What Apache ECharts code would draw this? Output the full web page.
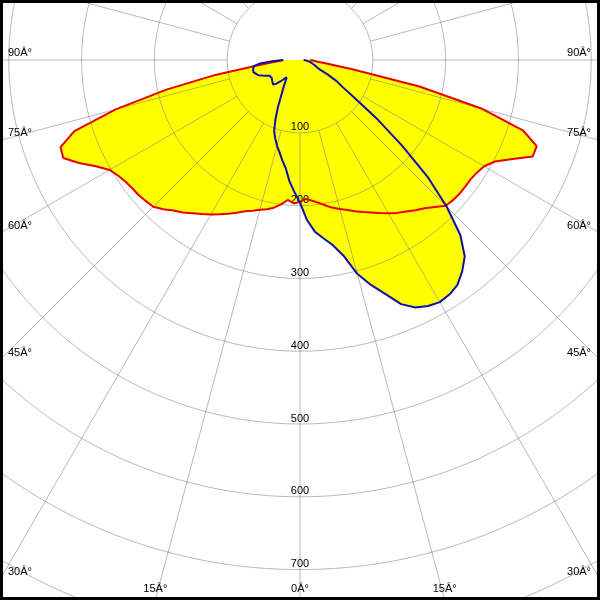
<!DOCTYPE html>
<html><head><meta charset="utf-8">
<script src="https://cdn.jsdelivr.net/npm/echarts@6/dist/echarts.min.js"></script>
<style>html,body{margin:0;padding:0;background:#fff}#c{width:600px;height:600px}</style>
</head><body><div id="c"></div>
<script>
// gamma angles (deg from nadir, negative = left half)
const gammas = [-90,-87.5,-85,-82.5,-80,-77.5,-75,-72.5,-70,-67.5,-65,-62.5,-60,-57.5,-55,-52.5,-50,-47.5,-45,-42.5,-40,-37.5,-35,-32.5,-30,-27.5,-25,-22.5,-20,-17.5,-15,-12.5,-10,-7.5,-5,-2.5,0,2.5,5,7.5,10,12.5,15,17.5,20,22.5,25,27.5,30,32.5,35,37.5,40,42.5,45,47.5,50,52.5,55,57.5,60,62.5,65,67.5,70,72.5,75,77.5,80,82.5,85,87.5,90];
const redValues = [23,29,40,61,118,188,262,325,350,352,335,316,302,296,292,290,289,287,285,278,270,264,257,251,245,239,233,227,221,217,213,210,206,200,193,197,195,191,194,198,203,208,212,216,221,226,231,237,243,249,254,260,266,274,283,285,286,286,286,288,292,302,322,346,346,321,259,168,73,35,23,18,14];
const blueValues = [23,38,55,64,65,66,66,65,61,56,51,47,46,46,47,48,49,50,46,40,34,30,34,40,47,57,72,88,104,113,122,130,140,150,167,181,196,220,237,247,258,275,304,324,342,363,375,381,384,382,377,366,352,326,285,238,183,135,94,70,58,42,28,25,22,19,17,15,13,11,9,7,5];
const radiusTicks = [100,200,300,400,500,600,700];
const gridCircles = [100,200,300,400,500,600,700,800];
const angleTicks = [0,15,30,45,60,75,90];
const angleSuffix = 'Â°';

const CX = 300, CY = 60, PX = 0.728, RMAX = 900, W = 600, H = 600;
const SPOKE_STEP = 15, SPOKE_R0 = 100;
const gridColor = 'rgba(115,115,115,0.5)';
const font = '11px "Liberation Sans", Arial, sans-serif';

function toData(vals){ return gammas.map((g,i)=>[vals[i], (g+360)%360]); }

// grid drawn as polar line series so it sits above the yellow fill
const gridSeries = [];
gridCircles.forEach(r=>{
  const pts = [];
  for (let a=0; a<=360; a+=1) pts.push([r, a]);
  gridSeries.push({type:'line', coordinateSystem:'polar', polarIndex:0, z:3, silent:true, symbol:'none',
    data:pts, lineStyle:{color:gridColor, width:1}});
});
for (let a=0; a<360; a+=SPOKE_STEP){
  gridSeries.push({type:'line', coordinateSystem:'polar', polarIndex:0, z:3, silent:true, symbol:'none',
    data:[[SPOKE_R0, a],[RMAX, a]], lineStyle:{color:gridColor, width:1}});
}

// angle labels placed where each spoke meets the frame
const graphics = [];
angleTicks.forEach(a=>{
  [-1,1].forEach(side=>{
    if (a===0 && side===1) return;
    const rad = a*Math.PI/180;
    const s = Math.sin(rad), c = Math.cos(rad);
    let x, y, align;
    const tSide = s>1e-9 ? (W/2)/s : Infinity;
    const tBot = c>1e-9 ? (H-CY)/c : Infinity;
    if (tSide < tBot) {
      y = CY + tSide*c - 2;
      x = side<0 ? 8 : W-9;
      align = side<0 ? 'left' : 'right';
    } else {
      x = CX + side*tBot*s; y = H-6; align = 'center';
    }
    graphics.push({type:'text', z:50, style:{text: a+angleSuffix, x:x, y:y, fill:'#000', font:font, align:align, verticalAlign:'bottom'}});
  });
});
graphics.push({type:'rect', z:100, shape:{x:0,y:0,width:W,height:H}, style:{fill:'none', stroke:'#000', lineWidth:6}});

const chart = echarts.init(document.getElementById('c'), null, {renderer:'canvas'});
chart.setOption({
  animation:false,
  backgroundColor:'#fff',
  polar:[{center:[CX,CY], radius:[0, RMAX*PX]}],
  angleAxis:[{polarIndex:0, type:'value', min:0, max:360, interval:15, startAngle:270, clockwise:false,
     axisLine:{show:false}, axisTick:{show:false}, axisLabel:{show:false}, splitLine:{show:false}}],
  radiusAxis:[{polarIndex:0, type:'value', min:0, max:RMAX, interval:100, z:4,
     axisLine:{show:false}, axisTick:{show:false}, splitLine:{show:false},
     axisLabel:{show:true, margin:0, color:'#000', fontSize:11, fontFamily:'"Liberation Sans", Arial, sans-serif',
       align:'center', verticalAlign:'bottom',
       formatter:v=> radiusTicks.indexOf(v)>=0 ? String(v) : ''}}],
  series:[
    {type:'line', coordinateSystem:'polar', polarIndex:0, z:1, data:toData(redValues), symbol:'none', silent:true,
     lineStyle:{width:0, opacity:0}, areaStyle:{color:'#ffff00', opacity:1}},
    {type:'line', coordinateSystem:'polar', polarIndex:0, z:1, data:toData(blueValues), symbol:'none', silent:true,
     lineStyle:{width:0, opacity:0}, areaStyle:{color:'#ffff00', opacity:1}}
  ].concat(gridSeries).concat([
    {type:'line', coordinateSystem:'polar', polarIndex:0, z:5, data:toData(redValues), symbol:'none',
     lineStyle:{width:2, color:'#e60000'}},
    {type:'line', coordinateSystem:'polar', polarIndex:0, z:6, data:toData(blueValues), symbol:'none',
     lineStyle:{width:2, color:'#1010a8'}}
  ]),
  graphic:graphics
});
</script></body></html>
